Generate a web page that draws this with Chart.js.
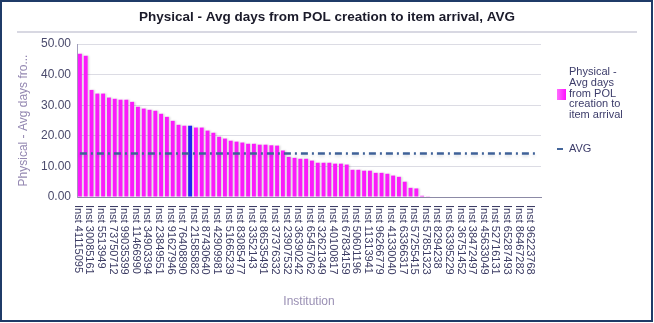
<!DOCTYPE html>
<html>
<head>
<meta charset="utf-8">
<script src="https://cdn.jsdelivr.net/npm/chart.js@4.4.1/dist/chart.umd.min.js"></script>
<style>
  html, body { margin: 0; padding: 0; background: #fff; }
  #wrap { position: relative; width: 654px; height: 323px; overflow: hidden; font-family: "Liberation Sans", Arial, sans-serif; }
  #chart { position: absolute; left: 0; top: 0; }
  #frame { position: absolute; left: 0; top: 0; width: 649px; height: 318px; border: 2px solid #1f3b68; pointer-events: none; }
  #rule { position: absolute; left: 17px; top: 31px; width: 620px; height: 2px; background: #d8d8e2; }
  .leg { position: absolute; left: 569px; font-size: 11px; line-height: 10.8px; color: #3c3c6a; }
  #legBox { position: absolute; left: 557px; top: 89px; width: 9px; height: 11px; background: linear-gradient(90deg, #ff6cff, #ff10ff); }
  #legLine { position: absolute; left: 557px; top: 148px; width: 6px; height: 2px; background: #44669a; }
</style>
</head>
<body>
<div id="wrap">
  <canvas id="chart" width="654" height="323"></canvas>
  <div id="rule"></div>
  <div id="legBox"></div>
  <div class="leg" style="top:66px">Physical -<br>Avg days<br>from POL<br>creation to<br>item arrival</div>
  <div id="legLine"></div>
  <div class="leg" style="top:143px">AVG</div>
  <div id="frame"></div>
</div>
<script>
// institutions, sorted by value; every second one is labelled on the axis
const institutions = [
  'Inst 41115095', 'Inst 18273645', 'Inst 30085161', 'Inst 62718394', 'Inst 5513949', 'Inst 90817263',
  'Inst 73750712', 'Inst 27364518', 'Inst 99035399', 'Inst 44512876', 'Inst 11466990', 'Inst 58293017',
  'Inst 34903394', 'Inst 70162534', 'Inst 23849551', 'Inst 15937482', 'Inst 91627946', 'Inst 66048213',
  'Inst 76408890', 'Inst 29384756', 'Inst 21585882', 'Inst 80571624', 'Inst 87430640', 'Inst 47219386',
  'Inst 42909981', 'Inst 35618204', 'Inst 51665239', 'Inst 93840157', 'Inst 83085477', 'Inst 12749530',
  'Inst 3352143', 'Inst 68205914', 'Inst 86535491', 'Inst 24917368', 'Inst 37376332', 'Inst 79051823',
  'Inst 23907532', 'Inst 56382917', 'Inst 36390242', 'Inst 14826093', 'Inst 65457062', 'Inst 88160475',
  'Inst 32621349', 'Inst 47503816', 'Inst 40100817', 'Inst 61938274', 'Inst 67834159', 'Inst 20471935',
  'Inst 50601196', 'Inst 95726104', 'Inst 11313941', 'Inst 38294710', 'Inst 96266779', 'Inst 72915648',
  'Inst 41330040', 'Inst 26058391', 'Inst 63366317', 'Inst 84137205', 'Inst 57255415', 'Inst 19602748',
  'Inst 57851323', 'Inst 43780159', 'Inst 8294238', 'Inst 70396421', 'Inst 63395229', 'Inst 31847062',
  'Inst 36751452', 'Inst 92508314', 'Inst 38472497', 'Inst 15063928', 'Inst 45633049', 'Inst 69284710',
  'Inst 52716131', 'Inst 27950386', 'Inst 65287493', 'Inst 81402657', 'Inst 86467282', 'Inst 33719540',
  'Inst 96223768', 'Inst 54086129'
];

const avgDays = [
  46.8, 46.2, 35.0, 33.8, 33.8, 32.5, 32.1, 31.8, 31.8, 31.1,
  29.5, 28.9, 28.5, 28.2, 27.2, 26.2, 24.9, 23.6, 23.3, 23.3,
  22.7, 22.7, 21.7, 21.0, 19.7, 19.1, 18.4, 18.1, 17.8, 17.4,
  17.4, 17.1, 17.1, 16.9, 16.8, 15.2, 13.1, 12.8, 12.5, 12.5,
  11.9, 11.2, 11.2, 11.2, 10.9, 10.9, 10.6, 8.9, 8.9, 8.6,
  8.6, 7.9, 7.9, 7.6, 7.0, 6.6, 5.0, 3.0, 2.8, 0.4,
  0.1, 0, 0, 0, 0, 0, 0, 0, 0, 0,
  0, 0, 0, 0, 0, 0, 0, 0, 0, 0
];

const highlighted = 'Inst 29384756';
const avgValue = 14.25;
const avgLine = institutions.map(() => avgValue);

const barColors = institutions.map(n => n === highlighted ? '#2323f5' : '#fb1bfb');

// rotated x labels, reading top to bottom, every second category
const xLabels = {
  id: 'xLabels',
  afterDraw(chart) {
    const x = chart.scales.x;
    const c = chart.ctx;
    c.save();
    c.font = '11px "Liberation Sans"';
    c.fillStyle = '#3c3c64';
    c.textAlign = 'left';
    c.textBaseline = 'middle';
    institutions.forEach((name, i) => {
      if (i % 2) return;
      c.save();
      c.translate(x.getPixelForValue(i) - 2, chart.chartArea.bottom + 8);
      c.rotate(Math.PI / 2);
      c.fillText(name, 0, 0);
      c.restore();
    });
    c.restore();
  }
};

const shadows = {
  id: 'shadows',
  beforeDatasetDraw(chart, args) {
    const c = chart.ctx;
    c.save();
    if (args.meta.type === 'line') {
      c.shadowColor = 'rgba(40,60,90,0.15)';
      c.shadowBlur = 3;
      c.shadowOffsetY = 2;
    } else {
      c.shadowColor = 'rgba(0,0,0,0.15)';
      c.shadowBlur = 2;
      c.shadowOffsetX = 1.5;
    }
  },
  afterDatasetDraw(chart) {
    chart.ctx.restore();
  }
};

new Chart(document.getElementById('chart'), {
  data: {
    labels: institutions,
    datasets: [
      {
        type: 'line',
        label: 'AVG',
        data: avgLine,
        borderColor: '#3f6198',
        borderWidth: 2.5,
        borderDash: [7, 4, 2, 4],
        pointRadius: 0,
        order: 0
      },
      {
        type: 'bar',
        label: 'Physical - Avg days from POL creation to item arrival',
        data: avgDays,
        backgroundColor: barColors,
        barPercentage: 0.68,
        categoryPercentage: 1,
        order: 1
      }
    ]
  },
  options: {
    responsive: false,
    animation: false,
    layout: { padding: 0 },
    plugins: {
      legend: { display: false },
      tooltip: { enabled: false },
      title: {
        display: true,
        text: 'Physical - Avg days from POL creation to item arrival, AVG',
        color: '#1a1a2a',
        font: { family: 'Liberation Sans', size: 13.5, weight: 'bold' },
        padding: { top: 9, bottom: 18.8 }
      }
    },
    scales: {
      x: {
        grid: { display: false },
        border: { display: true, color: '#8c8aa6' },
        ticks: { display: false },
        title: {
          display: true,
          text: 'Institution',
          color: '#9a90b4',
          font: { family: 'Liberation Sans', size: 12 },
          padding: { top: 0, bottom: 14 }
        },
        afterFit(s) { s.height = 126; }
      },
      y: {
        min: 0,
        max: 50,
        ticks: {
          stepSize: 10,
          color: '#4a4a6c',
          font: { family: 'Liberation Sans', size: 12 },
          padding: 6,
          callback: v => v.toFixed(2)
        },
        grid: { color: '#dcdce4', drawTicks: false, tickLength: 0 },
        border: { display: true, color: '#a09ebc' },
        title: {
          display: true,
          text: 'Physical - Avg days fro...',
          color: '#9488b2',
          font: { family: 'Liberation Sans', size: 12 },
          padding: { top: 16, bottom: 0 }
        },
        afterFit(s) { s.width = 77; }
      },
      side: {
        position: 'right',
        type: 'linear',
        display: true,
        grid: { display: false },
        border: { display: false },
        ticks: { display: false },
        afterFit(s) { s.width = 113; }
      }
    }
  },
  plugins: [xLabels, shadows]
});
</script>
</body>
</html>
